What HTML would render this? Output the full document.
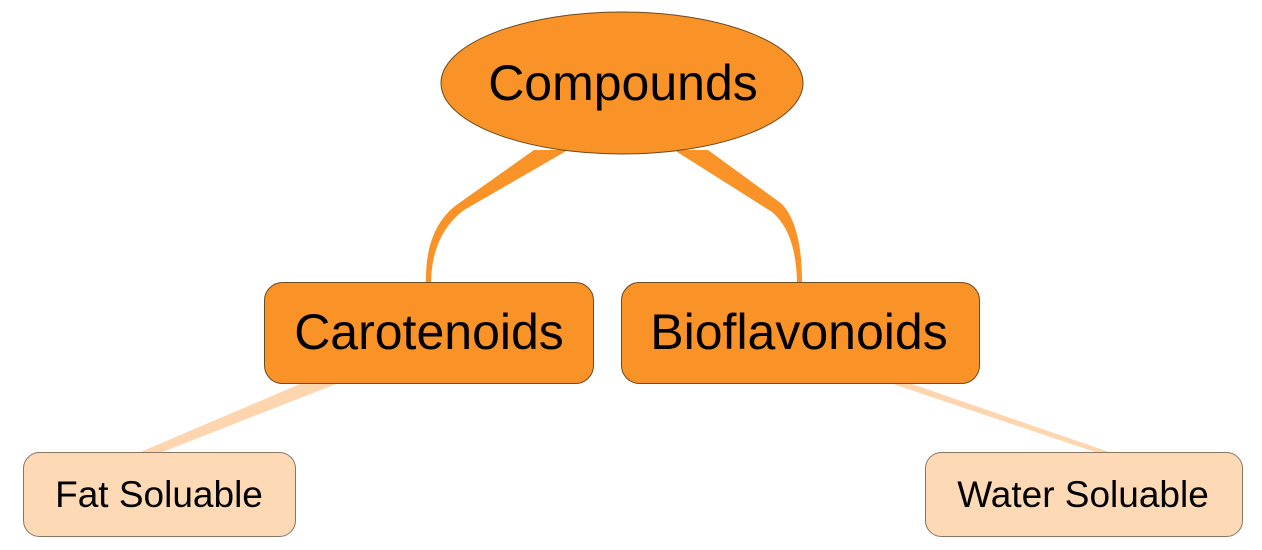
<!DOCTYPE html>
<html><head><style>
body{margin:0;background:#fff;}
svg{display:block;font-family:"Liberation Sans",Arial,sans-serif;}
</style></head><body>
<svg width="1262" height="550" viewBox="0 0 1262 550">
<path d="M534,150 L568,150 L464,210 Q432,234 431,282 L426,282 Q425,230 455,206 Z" fill="#f99227"/>
<path d="M674,150 L708,150 L782,204 Q802,226 802,282 L797,282 Q796,232 772,212 Z" fill="#f99227"/>
<path d="M300,384 L336,384 L160,453 L138,453 Z" fill="#fdd6b0"/>
<path d="M893,384 L912,384 L1112,453 L1098,453 Z" fill="#fdd6b0"/>
<ellipse cx="622" cy="83" rx="181" ry="71" fill="#f99227" stroke="#6b4a1e" stroke-width="1"/>
<text x="623" y="100" font-size="50" text-anchor="middle" fill="#000">Compounds</text>
<rect x="264.5" y="282.5" width="329" height="101" rx="18" fill="#f99227" stroke="#6b4a1e"/>
<text x="429" y="349" font-size="50" text-anchor="middle">Carotenoids</text>
<rect x="621.5" y="282.5" width="358" height="101" rx="18" fill="#f99227" stroke="#6b4a1e"/>
<text x="799" y="349" font-size="50" text-anchor="middle">Bioflavonoids</text>
<rect x="23.5" y="452.5" width="272" height="84" rx="16" fill="#fdd9b5" stroke="#8a7560"/>
<text x="159" y="507" font-size="37" text-anchor="middle">Fat Soluable</text>
<rect x="925.5" y="452.5" width="317" height="84" rx="16" fill="#fdd9b5" stroke="#8a7560"/>
<text x="1083" y="507" font-size="37" text-anchor="middle">Water Soluable</text>
</svg>
</body></html>
